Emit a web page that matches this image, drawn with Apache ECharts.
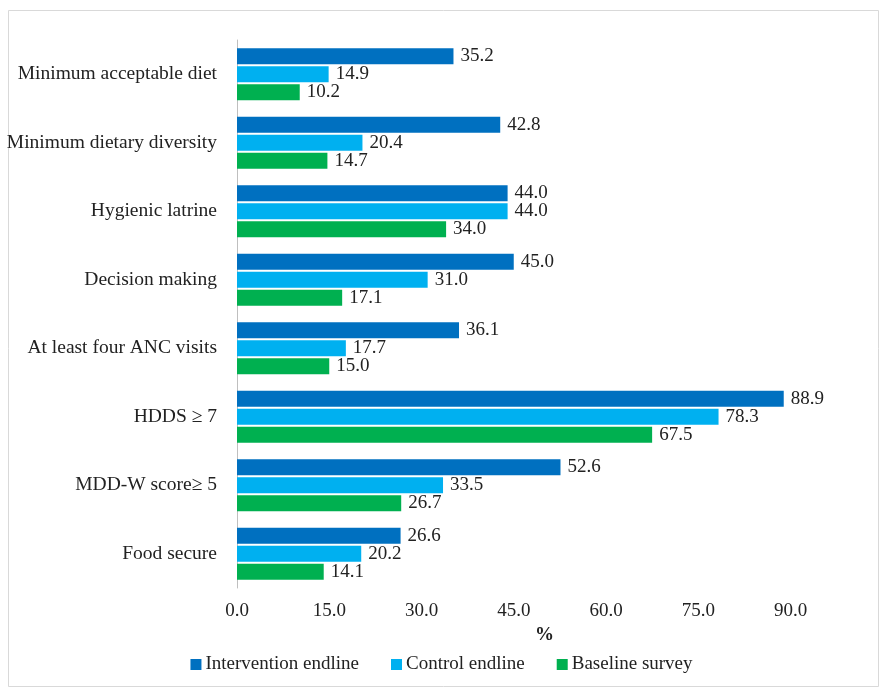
<!DOCTYPE html>
<html>
<head>
<meta charset="utf-8">
<script src="https://cdn.jsdelivr.net/npm/echarts@6/dist/echarts.min.js"></script>
<style>
  html, body { margin: 0; padding: 0; background: #fff; }
  #chart { width: 883px; height: 688px; }
</style>
</head>
<body>
<div id="chart"></div>
<script>
// Indicators, listed top to bottom
const categories = [
  'Minimum acceptable diet',
  'Minimum dietary diversity',
  'Hygienic latrine',
  'Decision making',
  'At least four ANC visits',
  'HDDS \u2265 7',
  'MDD-W score\u2265 5',
  'Food secure'
];
const interventionEndline = [35.2, 42.8, 44.0, 45.0, 36.1, 88.9, 52.6, 26.6];
const controlEndline      = [14.9, 20.4, 44.0, 31.0, 17.7, 78.3, 33.5, 20.2];
const baselineSurvey      = [10.2, 14.7, 34.0, 17.1, 15.0, 67.5, 26.7, 14.1];
const xTicks = [0, 15, 30, 45, 60, 75, 90];

const FONT = '"Liberation Serif", "Times New Roman", serif';

function barSeries(name, data, color) {
  return {
    name: name,
    type: 'bar',
    data: data,
    barWidth: 16,
    barGap: '12.5%',
    itemStyle: { color: color },
    label: {
      show: true,
      position: 'right',
      distance: 7,
      formatter: p => p.value.toFixed(1),
      fontFamily: FONT,
      fontSize: 19,
      color: '#222'
    }
  };
}

const chart = echarts.init(document.getElementById('chart'), null, { renderer: 'canvas' });
chart.setOption({
  animation: false,
  backgroundColor: '#fff',
  graphic: [{
    type: 'rect',
    shape: { x: 8.5, y: 10.5, width: 870, height: 676 },
    style: { fill: 'none', stroke: '#d9d9d9', lineWidth: 1 },
    z: -1
  }],
  grid: { left: 237, right: 31, top: 40, bottom: 100, containLabel: false },
  legend: {
    top: 650,
    left: 'center',
    itemWidth: 11,
    itemHeight: 11,
    itemGap: 32,
    icon: 'rect',
    textStyle: { fontFamily: FONT, fontSize: 19, color: '#222', padding: [0, 0, 0, -1] },
    data: ['Intervention endline', 'Control endline', 'Baseline survey']
  },
  xAxis: {
    type: 'value',
    min: 0,
    max: 100,
    interval: 15,
    name: '%',
    nameLocation: 'middle',
    nameGap: 38,
    nameTextStyle: { fontFamily: FONT, fontSize: 19, fontWeight: 'bold', color: '#222' },
    axisLine: { show: false },
    axisTick: { show: false },
    splitLine: { show: false },
    axisLabel: {
      fontFamily: FONT,
      fontSize: 19,
      color: '#222',
      margin: 14,
      formatter: v => xTicks.includes(v) ? v.toFixed(1) : ''
    }
  },
  yAxis: {
    type: 'category',
    inverse: true,
    data: categories,
    axisLine: { show: true, lineStyle: { color: '#bfbfbf', width: 1 } },
    axisTick: { show: false },
    axisLabel: {
      fontFamily: FONT,
      fontSize: 19.5,
      color: '#222',
      margin: 20
    }
  },
  series: [
    barSeries('Intervention endline', interventionEndline, '#0070C0'),
    barSeries('Control endline', controlEndline, '#00B0F0'),
    barSeries('Baseline survey', baselineSurvey, '#00B050')
  ]
});
</script>
</body>
</html>
